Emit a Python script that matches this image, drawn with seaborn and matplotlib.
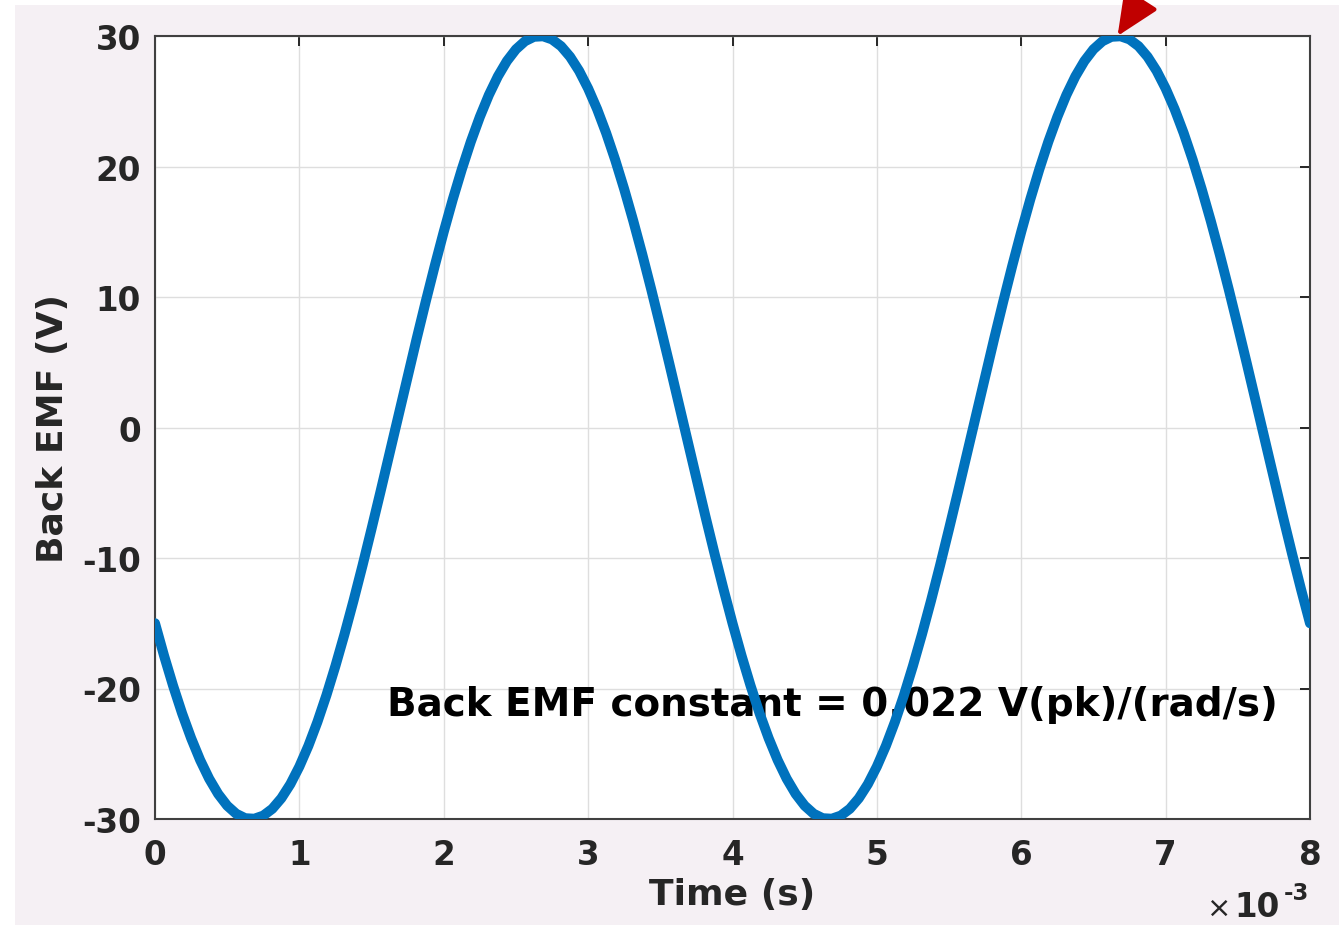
import numpy as np
import pandas as pd
import matplotlib
matplotlib.use("Agg")
import matplotlib.pyplot as plt
from matplotlib.patches import Rectangle
import seaborn as sns

# Time grid in ms (axis shows x10^-3 s), sampled every 0.0625 ms
time_ms = np.linspace(0.0, 8.0, 129)
back_emf = [
    -15.00, -17.48, -19.78, -21.90, -23.80, -25.48, -26.91, -28.08, -28.98, -29.60, -29.94, -29.98,
    -29.74, -29.22, -28.41, -27.33, -25.98, -24.39, -22.56, -20.51, -18.26, -15.84, -13.27, -10.57,
    -7.76, -4.89, -1.96, 0.98, 3.92, 6.81, 9.64, 12.38, 15.00, 17.48, 19.78, 21.90, 23.80, 25.48,
    26.91, 28.08, 28.98, 29.60, 29.94, 29.98, 29.74, 29.22, 28.41, 27.33, 25.98, 24.39, 22.56, 20.51,
    18.26, 15.84, 13.27, 10.57, 7.76, 4.89, 1.96, -0.98, -3.92, -6.81, -9.64, -12.38,
    -15.00, -17.48, -19.78, -21.90, -23.80, -25.48, -26.91, -28.08, -28.98, -29.60, -29.94, -29.98,
    -29.74, -29.22, -28.41, -27.33, -25.98, -24.39, -22.56, -20.51, -18.26, -15.84, -13.27, -10.57,
    -7.76, -4.89, -1.96, 0.98, 3.92, 6.81, 9.64, 12.38, 15.00, 17.48, 19.78, 21.90, 23.80, 25.48,
    26.91, 28.08, 28.98, 29.60, 29.94, 29.98, 29.74, 29.22, 28.41, 27.33, 25.98, 24.39, 22.56, 20.51,
    18.26, 15.84, 13.27, 10.57, 7.76, 4.89, 1.96, -0.98, -3.92, -6.81, -9.64, -12.38,
    -15.00]
x_ticks = [0, 1, 2, 3, 4, 5, 6, 7, 8]
y_ticks = [-30, -20, -10, 0, 10, 20, 30]
peak_time_ms = 6.667
peak_value = 30
annotation_text = "Back EMF constant = 0.022 V(pk)/(rad/s)"

sns.set_theme(style="white")
plt.rcParams['font.family'] = ['DejaVu Sans']

text_color = "#262626"
bg = "#f5f0f4"
W, H = 1339, 929

fig = plt.figure(figsize=(W / 100, H / 100), dpi=100)
fig.patch.set_facecolor("white")
fig.patches.append(Rectangle((15 / W, 3 / H), 1 - 15 / W, 1 - 9 / H,
                             transform=fig.transFigure, facecolor=bg, edgecolor="none", zorder=-10))
ax = fig.add_axes([155 / W, 1 - 820 / H, (1310 - 155) / W, (820 - 37) / H])
ax.set_facecolor("white")

df = pd.DataFrame({"t": time_ms, "v": back_emf})
sns.lineplot(data=df, x="t", y="v", ax=ax, color="#0072BD", linewidth=7.2, zorder=3)

ax.set_xlim(0, 8)
ax.set_ylim(-30, 30)
ax.set_xticks(x_ticks)
ax.set_yticks(y_ticks)
ax.set_xticklabels([str(v) for v in x_ticks])
ax.set_yticklabels([str(v) for v in y_ticks])
ax.grid(True, color="#dedede", linewidth=1.0)
ax.set_axisbelow(True)
for s in ax.spines.values():
    s.set_color("#404040")
    s.set_linewidth(1.5)
ax.tick_params(direction="in", length=7, width=1.4, color="#262626",
               top=True, right=True, labelsize=23.5, labelcolor=text_color)
ax.tick_params(axis="x", pad=14)
ax.tick_params(axis="y", pad=10)
for lab in ax.get_xticklabels() + ax.get_yticklabels():
    lab.set_fontweight("bold")

ax.set_xlabel("Time (s)", fontsize=26, fontweight="bold", color=text_color, labelpad=4)
ax.set_ylabel("Back EMF (V)", fontsize=26, fontweight="bold", color=text_color, labelpad=9)

# MATLAB-style exponent label
fig.text(1231 / W, 1 - 917 / H, "\u00d7", ha="right", va="baseline", fontsize=21,
         color=text_color)
fig.text(1280 / W, 1 - 917 / H, "10", ha="right", va="baseline", fontsize=23.5,
         fontweight="bold", color=text_color)
fig.text(1309 / W, 1 - 900 / H, "-3", ha="right", va="baseline", fontsize=16.5,
         fontweight="bold", color=text_color)

ax.text(1.61, -21.2, annotation_text, fontsize=28, fontweight="bold", color="black",
        ha="left", va="center", zorder=2)

ax.annotate("", xy=(peak_time_ms, peak_value), xytext=(54, 84), textcoords="offset points",
            arrowprops=dict(arrowstyle="-|>,head_length=0.67,head_width=0.3", color="#c00000",
                            lw=3, mutation_scale=40, shrinkA=0, shrinkB=0),
            annotation_clip=False, zorder=5)

fig.savefig("out.png", dpi=100, facecolor=fig.get_facecolor())
